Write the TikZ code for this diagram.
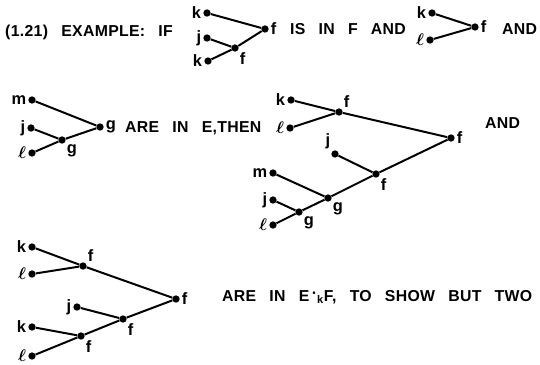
\documentclass[tikz,border=0pt]{standalone}
\usepackage{amsmath,amssymb}
\usepackage{fontspec}
\setmainfont{Liberation Sans}
\newfontfamily\lettered[LetterSpace=2,WordSpace=2.8]{Liberation Sans}
\usepackage{tikz}
\tikzstyle{dot} = [circle, fill=black, inner sep=0pt, minimum size=0.22cm]
\tikzstyle{edge} = [line width=1.7pt]
\tikzstyle{txt} = [anchor=west, inner sep=0pt, font=\lettered\bfseries\fontsize{13.5}{15}\selectfont]
\tikzset{every label/.style={inner sep=1.5pt, font=\bfseries\fontsize{14}{15}\selectfont}}
\newcommand{\lscr}{$\boldsymbol{\ell}$}

\begin{document}
\begin{tikzpicture}[x=0.03cm, y=-0.03cm]
\useasboundingbox (0,0) rectangle (540,364);

% first line
\node (t1) [txt] at (5,32) {(1.21) EXAMPLE: IF};
\node (a1) [dot, label=left:k] at (207,13) {};
\node (a2) [dot, label=left:j] at (207,38) {};
\node (a3) [dot, label=left:k] at (208,61) {};
\node (af) [dot, label=below right:f] at (235,48) {};
\node (ar) [dot, label=right:f] at (265,29) {};
\draw [edge] (a1) -- (ar);
\draw [edge] (a2) -- (af);
\draw [edge] (a3) -- (af);
\draw [edge] (af) -- (ar);
\node (t2) [txt] at (290,29) {IS IN F AND};
\node (b1) [dot, label=left:k] at (432,13) {};
\node (b2) [dot, label=left:\lscr] at (430,40) {};
\node (br) [dot, label=right:f] at (475,27) {};
\draw [edge] (b1) -- (br);
\draw [edge] (b2) -- (br);
\node (t3) [txt] at (502,29) {AND};

% second line
\node (c1) [dot, label=left:m] at (32,100) {};
\node (c2) [dot, label=left:j] at (31,128) {};
\node (c3) [dot, label=left:\lscr] at (32,153) {};
\node (cg) [dot, label=below right:g] at (62,140) {};
\node (cr) [dot, label=right:g] at (100,127) {};
\draw [edge] (c1) -- (cr);
\draw [edge] (c2) -- (cg);
\draw [edge] (c3) -- (cg);
\draw [edge] (cg) -- (cr);
\node (t4) [txt] at (125,128) {ARE IN E,THEN};

\node (d1) [dot, label=left:k] at (291,100) {};
\node (d2) [dot, label=left:\lscr] at (290,128) {};
\node (df1) [dot, label=above right:f] at (339,112) {};
\node (dr) [dot, label=right:f] at (451,138) {};
\node (d3) [dot, label=above left:j] at (335,154) {};
\node (df2) [dot, label=below right:f] at (376,174) {};
\node (d4) [dot, label=left:m] at (273,173) {};
\node (dg1) [dot, label=below right:g] at (328,198) {};
\node (d5) [dot, label=left:j] at (273,200) {};
\node (dg2) [dot, label=below right:g] at (299,212) {};
\node (d6) [dot, label=left:\lscr] at (273,225) {};
\draw [edge] (d1) -- (df1);
\draw [edge] (d2) -- (df1);
\draw [edge] (df1) -- (dr);
\draw [edge] (d3) -- (df2);
\draw [edge] (df2) -- (dr);
\draw [edge] (d4) -- (dg1);
\draw [edge] (dg1) -- (df2);
\draw [edge] (d5) -- (dg2);
\draw [edge] (d6) -- (dg2);
\draw [edge] (dg2) -- (dg1);
\node (t5) [txt] at (485,123) {AND};

% third line
\node (e1) [dot, label=left:k] at (32,247) {};
\node (e2) [dot, label=left:\lscr] at (32,274) {};
\node (ef1) [dot, label=above right:f] at (83,266) {};
\node (er) [dot, label=right:f] at (176,299) {};
\node (e3) [dot, label=left:j] at (77,307) {};
\node (ef2) [dot, label=below right:f] at (123,319) {};
\node (e4) [dot, label=left:k] at (32,327) {};
\node (ef3) [dot, label=below right:f] at (81,336) {};
\node (e5) [dot, label=left:\lscr] at (32,356) {};
\draw [edge] (e1) -- (ef1);
\draw [edge] (e2) -- (ef1);
\draw [edge] (ef1) -- (er);
\draw [edge] (e3) -- (ef2);
\draw [edge] (ef2) -- (er);
\draw [edge] (e4) -- (ef3);
\draw [edge] (e5) -- (ef3);
\draw [edge] (ef3) -- (ef2);
\node (t6) [txt] at (222,297) {ARE IN E\,\raisebox{0.35ex}{·}\textsubscript{k}F, TO SHOW BUT TWO};

\end{tikzpicture}
\end{document}
